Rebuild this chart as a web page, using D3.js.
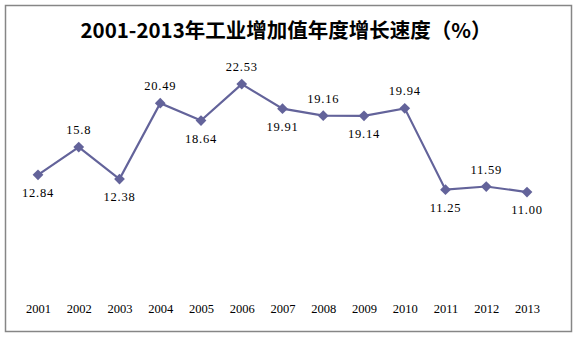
<!DOCTYPE html>
<html><head><meta charset="utf-8">
<script src="https://cdn.jsdelivr.net/npm/d3@7"></script>
<style>body{margin:0;background:#fff}svg{display:block}</style>
</head><body>
<script>
const years = ["2001","2002","2003","2004","2005","2006","2007","2008","2009","2010","2011","2012","2013"];
const values = [12.84,15.8,12.38,20.49,18.64,22.53,19.91,19.16,19.14,19.94,11.25,11.59,11.00];
const valueLabels = ["12.84","15.8","12.38","20.49","18.64","22.53","19.91","19.16","19.14","19.94","11.25","11.59","11.00"];
const labelAbove = [false,true,false,true,false,true,false,true,false,true,false,true,false];
const title = "2001-2013年工业增加值年度增长速度（%）";

const W = 578, H = 337;
const svg = d3.select("body").append("svg").attr("width", W).attr("height", H);
svg.append("rect").attr("x",5.5).attr("y",5.5).attr("width",566).attr("height",326)
  .attr("fill","#fff").attr("stroke","#868686").attr("stroke-width",1.5);

svg.append("text").attr("x",286).attr("y",38).attr("text-anchor","middle")
  .attr("font-family","'Noto Sans CJK SC', sans-serif").attr("font-size",20.5).attr("font-weight","bold")
  .attr("fill","#000").text(title);

const x = d3.scalePoint().domain(years).range([38,527]);
const y = d3.scaleLinear().domain([0,25]).range([295,61]);

const axis = d3.axisBottom(x).tickSize(0).tickPadding(0);
const g = svg.append("g").attr("transform","translate(0,304)").call(axis);
g.select(".domain").remove();
g.selectAll("text").attr("font-family","'Liberation Serif', serif").attr("font-size",12.5).attr("fill","#000");

const color = "#63639A";
const line = d3.line().x((d,i)=>x(years[i])).y(d=>y(d));
svg.append("path").datum(values).attr("d",line).attr("fill","none").attr("stroke",color).attr("stroke-width",2.2);

svg.selectAll(".m").data(values).enter().append("path")
  .attr("d", d3.symbol().type(d3.symbolSquare).size(58))
  .attr("transform",(d,i)=>`translate(${x(years[i])},${y(d)}) rotate(45)`)
  .attr("fill",color);

svg.selectAll(".lbl").data(values).enter().append("text")
  .attr("x",(d,i)=>x(years[i]))
  .attr("y",(d,i)=> y(d) + (labelAbove[i] ? -13 : 22))
  .attr("text-anchor","middle")
  .attr("font-family","'Liberation Serif', serif").attr("font-size",12.5)
  .attr("letter-spacing",0.8)
  .attr("fill","#000").text((d,i)=>valueLabels[i]);
</script>
</body></html>
